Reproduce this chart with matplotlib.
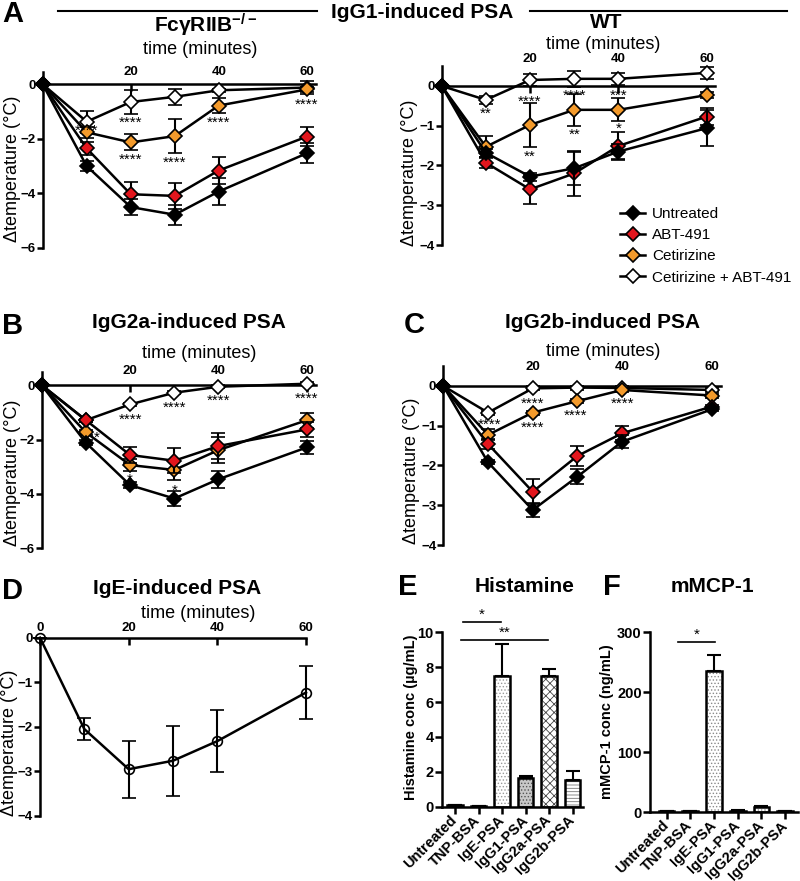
import matplotlib.pyplot as plt
import numpy as np
from matplotlib.lines import Line2D

plt.rcParams['font.family'] = ['Liberation Sans', 'DejaVu Sans']
plt.rcParams['mathtext.fontset'] = 'custom'
plt.rcParams['mathtext.rm'] = 'Liberation Sans:bold'
plt.rcParams['mathtext.it'] = 'Liberation Sans:bold'
plt.rcParams['mathtext.bf'] = 'Liberation Sans:bold'
plt.rcParams['hatch.linewidth'] = 0.6

W, H = 800, 881

# ---------------- data ----------------
time_min = [0, 10, 20, 30, 40, 60]
legend_labels = ['Untreated', 'ABT-491', 'Cetirizine', 'Cetirizine + ABT-491']

# A, FcgRIIB-/- mice, IgG1-induced PSA
fc_untr = [0, -3.0, -4.5, -4.78, -3.93, -2.53]
fc_untr_sem = [0, 0.18, 0.28, 0.37, 0.51, 0.37]
fc_abt = [0, -2.35, -4.03, -4.09, -3.16, -1.92]
fc_abt_sem = [0, 0.24, 0.46, 0.49, 0.51, 0.34]
fc_cet = [0, -1.76, -2.13, -1.9, -0.78, -0.19]
fc_cet_sem = [0, 0.2, 0.29, 0.63, 0.27, 0.1]
fc_both = [0, -1.37, -0.65, -0.46, -0.22, -0.12]
fc_both_sem = [0, 0.4, 0.43, 0.3, 0.05, 0.25]
fc_star_x = [10, 20, 20, 30, 40, 60]
fc_star_y = [-1.56, -1.25, -2.59, -2.71, -1.25, -0.58]
fc_star_txt = ['****', '****', '****', '****', '****', '****']

# A, WT mice
wt_untr = [0, -1.68, -2.28, -2.07, -1.65, -1.06]
wt_untr_sem = [0, 0.1, 0.1, 0.42, 0.19, 0.45]
wt_abt = [0, -1.93, -2.6, -2.2, -1.51, -0.77]
wt_abt_sem = [0, 0.14, 0.37, 0.57, 0.34, 0.21]
wt_cet = [0, -1.53, -0.98, -0.6, -0.6, -0.23]
wt_cet_sem = [0, 0.27, 0.55, 0.4, 0.29, 0.08]
wt_both = [0, -0.35, 0.15, 0.18, 0.18, 0.33]
wt_both_sem = [0, 0.1, 0.15, 0.2, 0.15, 0.15]
wt_star_x = [10, 20, 20, 30, 30, 40, 40]
wt_star_y = [-0.6, -0.29, -1.68, -0.14, -1.11, -0.14, -0.98]
wt_star_txt = ['**', '****', '**', '****', '**', '***', '*']

# B, IgG2a-induced PSA
g2a_untr = [0, -2.12, -3.68, -4.17, -3.46, -2.29]
g2a_untr_sem = [0, 0.1, 0.1, 0.28, 0.31, 0.25]
g2a_abt = [0, -1.29, -2.57, -2.78, -2.24, -1.63]
g2a_abt_sem = [0, 0.05, 0.31, 0.45, 0.47, 0.27]
g2a_cet = [0, -1.74, -2.94, -3.12, -2.39, -1.29]
g2a_cet_sem = [0, 0.1, 0.21, 0.37, 0.47, 0.27]
g2a_both = [0, -1.29, -0.71, -0.28, -0.06, 0.05]
g2a_both_sem = [0, 0.05, 0.05, 0.05, 0.05, 0.05]
g2a_star_x = [12.4, 20, 20, 30, 30, 40, 60]
g2a_star_y = [-1.78, -1.1, -3.31, -0.67, -3.74, -0.43, -0.34]
g2a_star_txt = ['*', '****', '*', '****', '*', '****', '****']

# C, IgG2b-induced PSA
g2b_untr = [0, -1.92, -3.12, -2.28, -1.4, -0.59]
g2b_untr_sem = [0, 0.05, 0.18, 0.19, 0.17, 0.05]
g2b_abt = [0, -1.46, -2.66, -1.76, -1.19, -0.52]
g2b_abt_sem = [0, 0.12, 0.32, 0.26, 0.18, 0.05]
g2b_cet = [0, -1.23, -0.67, -0.38, -0.1, -0.24]
g2b_cet_sem = [0, 0.14, 0.05, 0.05, 0.05, 0.05]
g2b_both = [0, -0.67, -0.06, -0.04, -0.05, -0.1]
g2b_both_sem = [0, 0.05, 0.05, 0.05, 0.05, 0.05]
g2b_star_x = [10.4, 20, 20, 29.5, 40]
g2b_star_y = [-0.86, -0.34, -0.94, -0.65, -0.34]
g2b_star_txt = ['****', '****', '****', '****', '****']

# D, IgE-induced PSA
ige_mean = [0, -2.05, -2.95, -2.76, -2.32, -1.23]
ige_sem = [0, 0.24, 0.64, 0.79, 0.7, 0.6]

# E / F, mediators
bar_labels = ['Untreated', 'TNP-BSA', 'IgE-PSA', 'IgG1-PSA', 'IgG2a-PSA', 'IgG2b-PSA']
histamine = [0.1, 0.05, 7.5, 1.62, 7.5, 1.53]
histamine_sem = [0.02, 0.01, 1.81, 0.15, 0.38, 0.53]
mmcp1 = [2, 2, 236, 3, 9.5, 1.5]
mmcp1_sem = [0.5, 0.5, 27, 0.5, 1, 0.3]

red = '#e3161d'
orange = '#f39a2b'

fig = plt.figure(figsize=(W / 100, H / 100), dpi=100)


def px_axes(left, top, right, bottom):
    return fig.add_axes([left / W, 1 - bottom / H, (right - left) / W, (bottom - top) / H])


def fig_text(x, y, s, **kw):
    fig.text(x / W, 1 - y / H, s, ha='center', va='center', **kw)


def draw_series(ax, mean, sem, face, z, marker='D', ms=7):
    cont = ax.errorbar(time_min, mean, yerr=sem, color='black', lw=1.8,
                       marker=marker, ms=ms, mfc=face, mec='black', mew=1.2,
                       ecolor='black', elinewidth=1.5, capsize=5, capthick=1.5,
                       zorder=z)
    for art in [cont[0]] + list(cont[1]) + list(cont[2]):
        art.set_clip_on(False)


def time_axes(ax, ylim, yticks, label_y, xticks=(20, 40, 60), xmax=62):
    ax.set_xlim(0, xmax)
    ax.set_ylim(*ylim)
    for s in ['bottom', 'right']:
        ax.spines[s].set_visible(False)
    ax.spines['top'].set_position(('data', 0))
    ax.spines['top'].set_linewidth(1.8)
    ax.spines['left'].set_linewidth(1.8)
    ax.xaxis.set_ticks_position('top')
    ax.set_xticks(list(xticks))
    ax.set_yticks(yticks)
    ax.tick_params(axis='x', direction='in', length=5, width=1.8,
                   labeltop=False)
    ax.tick_params(axis='y', direction='out', length=4, width=1.8, pad=1,
                   labelsize=9.5)
    for lab in ax.get_yticklabels():
        lab.set_fontweight('bold')
    # GraphPad puts the time labels above the plot area, not on the zero line
    for t in xticks:
        ax.text(t, label_y, str(t), transform=ax.get_xaxis_transform(),
                ha='center', va='center', fontsize=9.5, fontweight='bold')
    ax.patch.set_visible(False)


def stars(ax, xs, ys, txts):
    for x, y, t in zip(xs, ys, txts):
        ax.annotate(t, (x, y), xytext=(0, -6), textcoords='offset points',
                    ha='center', va='baseline', fontsize=11, zorder=10,
                    annotation_clip=False)


def four_groups(ax, untr, untr_sem, abt, abt_sem, cet, cet_sem, both, both_sem):
    draw_series(ax, both, both_sem, 'white', 3)
    draw_series(ax, cet, cet_sem, orange, 4)
    draw_series(ax, abt, abt_sem, red, 5)
    draw_series(ax, untr, untr_sem, 'black', 6)


# ---- A, FcgRIIB-/- ----
ax = px_axes(42.7, 72, 315.5, 248)
four_groups(ax, fc_untr, fc_untr_sem, fc_abt, fc_abt_sem,
            fc_cet, fc_cet_sem, fc_both, fc_both_sem)
time_axes(ax, (-6, 0.45), [0, -2, -4, -6], 1.0)
stars(ax, fc_star_x, fc_star_y, fc_star_txt)

# ---- A, WT ----
ax = px_axes(441.7, 66.1, 715.5, 245)
four_groups(ax, wt_untr, wt_untr_sem, wt_abt, wt_abt_sem,
            wt_cet, wt_cet_sem, wt_both, wt_both_sem)
time_axes(ax, (-4, 0.5), [0, -1, -2, -3, -4], 1.04)
stars(ax, wt_star_x, wt_star_y, wt_star_txt)

handles = [Line2D([], [], color='black', lw=1.8, marker='D', ms=7,
                  mfc=c, mec='black', mew=1.2)
           for c in ['black', red, orange, 'white']]
fig.legend(handles, legend_labels, loc='upper left',
           bbox_to_anchor=(620 / W, 1 - 207 / H), frameon=False, fontsize=11,
           handlelength=1.65, handletextpad=0.45, labelspacing=0.47,
           borderpad=0, borderaxespad=0)

# ---- B ----
ax = px_axes(41.7, 371.5, 315.7, 548.3)
four_groups(ax, g2a_untr, g2a_untr_sem, g2a_abt, g2a_abt_sem,
            g2a_cet, g2a_cet_sem, g2a_both, g2a_both_sem)
time_axes(ax, (-6, 0.5), [0, -2, -4, -6], 1.0)
stars(ax, g2a_star_x, g2a_star_y, g2a_star_txt)

# ---- C ----
ax = px_axes(443.3, 366.1, 720.5, 545)
four_groups(ax, g2b_untr, g2b_untr_sem, g2b_abt, g2b_abt_sem,
            g2b_cet, g2b_cet_sem, g2b_both, g2b_both_sem)
time_axes(ax, (-4, 0.5), [0, -1, -2, -3, -4], 0.995)
stars(ax, g2b_star_x, g2b_star_y, g2b_star_txt)

# ---- D ----
ax = px_axes(40, 637.7, 306, 816)
draw_series(ax, ige_mean, ige_sem, 'none', 3, marker='o', ms=7)
time_axes(ax, (-4, 0), [0, -1, -2, -3, -4], 1.054,
          xticks=(0, 20, 40, 60), xmax=60)


# ---- E / F bars ----
def bar_panel(ax, vals, sems, faces, hatches, hcols, ylim, yticks, xlim):
    x = np.arange(len(vals))
    ax.errorbar(x, vals, yerr=[np.zeros(len(vals)), sems], fmt='none',
                ecolor='black', elinewidth=1.5, capsize=5, capthick=1.5, zorder=1)
    for i in x:
        ax.bar(i, vals[i], width=0.66, color=faces[i], edgecolor=hcols[i],
               hatch=hatches[i], lw=0, zorder=2)
        ax.bar(i, vals[i], width=0.66, fill=False, edgecolor='black', lw=1.8,
               zorder=3)
    ax.set_xlim(*xlim)
    ax.set_ylim(*ylim)
    ax.set_yticks(yticks)
    ax.set_xticks(x, bar_labels, rotation=45, ha='right', va='center',
                  rotation_mode='anchor', fontweight='bold', fontsize=10.5)
    for s in ['top', 'right']:
        ax.spines[s].set_visible(False)
    for s in ['left', 'bottom']:
        ax.spines[s].set_linewidth(1.8)
    ax.tick_params(axis='both', direction='out', length=5, width=1.8,
                   labelsize=10.5)
    ax.tick_params(axis='x', pad=3, labelsize=10.5)
    ax.tick_params(axis='y', pad=1)
    for lab in ax.get_yticklabels():
        lab.set_fontweight('bold')
    ax.patch.set_visible(False)


ax = px_axes(442, 632.3, 583.3, 806.7)
bar_panel(ax, histamine, histamine_sem,
          ['white', 'white', 'white', '#c8c8c8', 'white', 'white'],
          ['', '', '.....', '.....', 'xxxx', '-----'],
          ['gray', 'gray', '#9a9a9a', '#555555', '#444444', '#777777'],
          (0, 10), [0, 2, 4, 6, 8, 10], (-0.55, 5.45))
ax.plot([0.35, 1.95], [10.6, 10.6], color='black', lw=1.2, clip_on=False)
ax.annotate('*', (1.15, 10.6), xytext=(0, 2), textcoords='offset points',
            ha='center', va='baseline', fontsize=11, annotation_clip=False)
ax.plot([0.25, 3.95], [9.56, 9.56], color='black', lw=1.2, clip_on=False)
ax.annotate('**', (2.1, 9.56), xytext=(0, 2), textcoords='offset points',
            ha='center', va='baseline', fontsize=11, annotation_clip=False)

ax = px_axes(650, 632.3, 798, 812.3)
bar_panel(ax, mmcp1, mmcp1_sem,
          ['white'] * 6,
          ['', '', '.....', '', '.....', ''],
          ['gray', 'gray', '#8a8a8a', 'gray', '#8a8a8a', 'gray'],
          (0, 300), [0, 100, 200, 300], (-0.7, 5.54))
ax.plot([0.46, 2.03], [284, 284], color='black', lw=1.2, clip_on=False)
ax.annotate('*', (1.25, 284), xytext=(0, 2), textcoords='offset points',
            ha='center', va='baseline', fontsize=11, annotation_clip=False)

# ---- figure texts ----
fig.add_artist(Line2D([58 / W, 316.7 / W], [1 - 11 / H, 1 - 11 / H], color='black', lw=1.5))
fig.add_artist(Line2D([530 / W, 786.7 / W], [1 - 11 / H, 1 - 11 / H], color='black', lw=1.5))
fig_text(422, 13, 'IgG1-induced PSA', fontsize=15, fontweight='bold')
fig_text(206, 25, r'FcγRIIB$^{-/-}$', fontsize=15, fontweight='bold')
fig_text(606.7, 23, 'WT', fontsize=15, fontweight='bold')

fig_text(13, 14, 'A', fontsize=21, fontweight='bold')
fig_text(13, 326, 'B', fontsize=21, fontweight='bold')
fig_text(414, 325, 'C', fontsize=21, fontweight='bold')
fig_text(13, 591, 'D', fontsize=21, fontweight='bold')
fig_text(408, 587, 'E', fontsize=21, fontweight='bold')
fig_text(612, 587, 'F', fontsize=21, fontweight='bold')

fig_text(189, 322, 'IgG2a-induced PSA', fontsize=15, fontweight='bold')
fig_text(603, 322, 'IgG2b-induced PSA', fontsize=15, fontweight='bold')
fig_text(177, 589, 'IgE-induced PSA', fontsize=15, fontweight='bold')
fig_text(525, 587, 'Histamine', fontsize=15, fontweight='bold')
fig_text(712, 587, 'mMCP-1', fontsize=15, fontweight='bold')

for x, y in [(200, 50), (603, 44.5), (199.5, 354), (603, 352), (198, 613)]:
    fig_text(x, y, 'time (minutes)', fontsize=13)

for x, y in [(13, 169), (410, 172.5), (12.5, 473), (411, 471), (10, 743)]:
    fig_text(x, y, 'Δtemperature (°C)', fontsize=13, rotation=90)

fig_text(411, 717, 'Histamine conc (µg/mL)', fontsize=10.5, fontweight='bold', rotation=90)
fig_text(607, 722, 'mMCP-1 conc (ng/mL)', fontsize=10.5, fontweight='bold', rotation=90)

fig.savefig('out.png', dpi=100)
